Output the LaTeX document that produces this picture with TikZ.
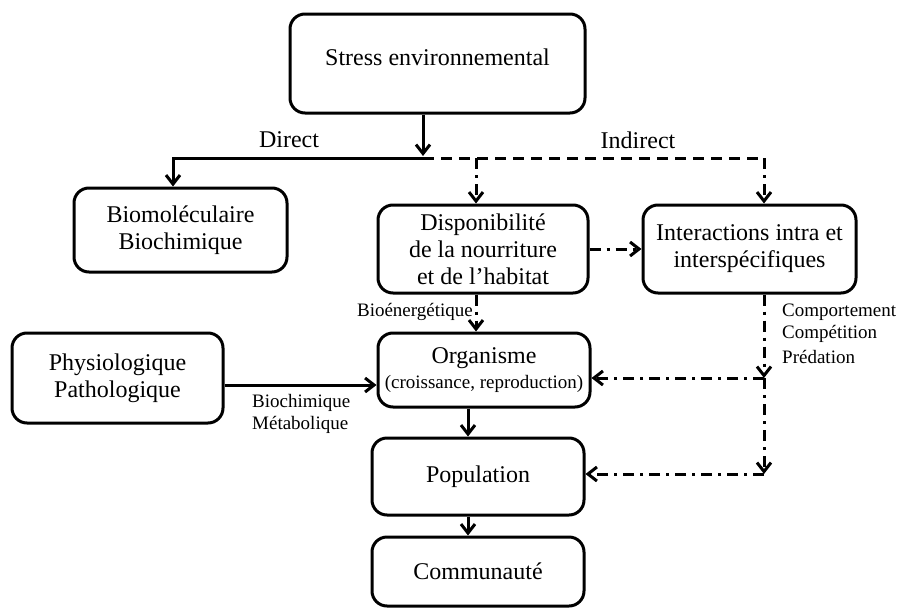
\documentclass[tikz,border=0pt]{standalone}
\usepackage{fontspec}
\setmainfont{Liberation Serif}
\usetikzlibrary{arrows.meta,calc}
\begin{document}
\begin{tikzpicture}[x=1pt,y=-1pt,
  box/.style={draw, line width=3pt, rounded corners=15pt, align=center,
    font=\fontsize{24}{27}\selectfont, inner sep=0pt},
  lbl/.style={font=\fontsize{24}{27}\selectfont, inner sep=0pt},
  small/.style={font=\fontsize{19}{22}\selectfont, inner sep=0pt},
  tip/.style={-{Straight Barb[length=9pt,width=14pt]}},
  sol/.style={line width=3pt},
  dd/.style={line width=3pt, dash pattern=on 11pt off 6pt on 3pt off 6pt},
  dsh/.style={line width=3pt, dash pattern=on 11pt off 7pt},
]
\useasboundingbox (0,0) rectangle (897,608);

\node[box, minimum width=295pt, minimum height=99pt, text depth=13pt] (stress) at (437.5,63.5) {Stress environnemental};
\node[box, minimum width=213pt, minimum height=84pt] (bio) at (180.5,230) {Biomoléculaire\\Biochimique};
\node[box, minimum width=211pt, minimum height=90pt] (physio) at (117.5,378) {Physiologique\\Pathologique};
\node[box, minimum width=210pt, minimum height=88pt] (dispo) at (483,249) {Disponibilité\\de la nourriture\\et de l’habitat};
\node[box, minimum width=213pt, minimum height=88pt] (inter) at (749.5,249) {Interactions intra et\\interspécifiques};
\node[box, minimum width=212pt, minimum height=74pt] (org) at (484,370) {Organisme\\[-2pt]{\fontsize{19}{22}\selectfont (croissance, reproduction)}};
\node[box, minimum width=212pt, minimum height=77pt] (pop) at (478,476.5) {Population};
\node[box, minimum width=212pt, minimum height=69pt] (comm) at (478,571.5) {Communauté};

\node[lbl] (direct) at (289,140) {Direct};
\node[lbl] (indirect) at (638,140) {Indirect};
\node[small, anchor=east] (be) at (473,312) {Bioénergétique};
\node[small, anchor=west] (bc) at (252,403) {Biochimique};
\node[small, anchor=west] (mt) at (252,425) {Métabolique};
\node[small, anchor=west] (cp) at (782,312) {Comportement};
\node[small, anchor=west] (ce) at (782,334) {Compétition};
\node[small, anchor=west] (pr) at (782,357) {Prédation};

\coordinate (top) at (423,158);
\coordinate (dl) at (173,158);
\coordinate (ir) at (764,158);
\coordinate (im) at (476,158);
\coordinate (j1) at (764,378);
\coordinate (j2) at (764,474);
\coordinate (a) at (0,385);
\coordinate (cx) at (468,0);

\draw[sol, tip, shorten >=2pt] (top |- stress.south) -- (top);
\draw[sol, tip] (top) -- (dl) -- (dl |- bio.north);
\draw[dsh] (top) -- (ir);
\draw[dd, tip] (ir) -- (ir |- inter.north);
\draw[dd, tip] (im) -- (im |- dispo.north);
\draw[dd, tip] (dispo.east) -- (inter.west);
\draw[dd, tip] (dispo.south -| im) -- (org.north -| im);
\draw[dd, tip] (inter.south -| ir) -- (j1);
\draw[dd, tip] (j1) -- (j2);
\draw[dd, tip] (j1) -- (org.east |- j1);
\draw[dd, tip] (j2) -- (pop.east |- j2);
\draw[sol, tip] (physio.east |- a) -- (org.west |- a);
\draw[sol, tip] (org.south -| cx) -- (pop.north -| cx);
\draw[sol, tip] (pop.south -| cx) -- (comm.north -| cx);
\end{tikzpicture}
\end{document}
